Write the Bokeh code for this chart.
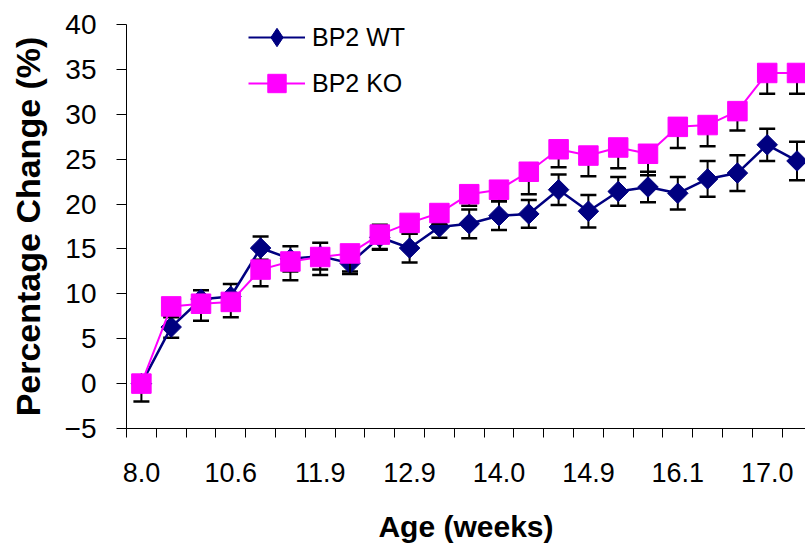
import numpy as np
from bokeh.plotting import figure
from bokeh.models import FixedTicker, Legend, LegendItem
from bokeh.embed import file_html
from bokeh.resources import INLINE

# ---- data ----
tick_labels = ["8.0", "10.6", "11.9", "12.9", "14.0", "14.9", "16.1", "17.0"]
label_step = 3
n_points = 23

wt = [0.0, 6.3, 9.4, 9.7, 15.1, 13.9, 14.2, 13.4, 16.3, 15.1, 17.45, 17.8,
      18.7, 18.9, 21.6, 19.2, 21.4, 21.9, 21.2, 22.8, 23.45, 26.6, 24.8]
wt_err = [0.8, 1.2, 1.0, 1.4, 1.3, 1.4, 1.5, 0.9, 1.4, 1.6, 1.2, 1.6,
          1.6, 1.55, 1.7, 1.8, 1.6, 1.7, 1.8, 2.0, 2.0, 1.8, 2.15]
ko = [0.0, 8.6, 8.9, 9.1, 12.7, 13.6, 14.1, 14.5, 16.6, 17.9, 19.0, 21.1,
      21.6, 23.6, 26.1, 25.4, 26.3, 25.6, 28.6, 28.8, 30.35, 34.6, 34.6]
ko_err = [2.0, 1.2, 1.9, 1.7, 1.85, 2.1, 2.0, 2.3, 1.6, 1.2, 1.2, 1.3,
          1.3, 2.5, 2.0, 2.3, 2.3, 2.4, 2.35, 2.35, 2.16, 2.3, 2.3]

series_names = ["BP2 WT", "BP2 KO"]
NAVY = "#000080"
MAGENTA = "#FF00FF"
FONT = "Liberation Sans"

x = list(range(n_points))
wt_a = np.array(wt)
wt_e = np.array(wt_err)
ko_a = np.array(ko)
ko_e = np.array(ko_err)

p = figure(width=805, height=548, x_range=(-0.5, 22.285), y_range=(-5, 40),
           output_backend="svg", toolbar_location=None,
           min_border_left=126, min_border_right=0, min_border_top=24,
           min_border_bottom=120)
p.outline_line_color = None
p.grid.visible = False
p.background_fill_color = "white"

# x axis
xa = p.xaxis[0]
xa.ticker = FixedTicker(ticks=x, minor_ticks=[i - 0.5 for i in range(n_points + 1)])
xa.major_label_overrides = {i: (tick_labels[i // label_step] if i % label_step == 0 else "")
                            for i in x}
xa.major_tick_line_color = None
xa.major_tick_out = 0
xa.major_tick_in = 0
xa.minor_tick_line_color = "black"
xa.minor_tick_out = 9
xa.minor_tick_in = 0
xa.major_label_standoff = 25
xa.major_label_text_font = FONT
xa.major_label_text_font_size = "27px"
xa.major_label_text_color = "black"
xa.axis_line_color = "black"
xa.axis_label = "Age (weeks)"
xa.axis_label_text_font = FONT
xa.axis_label_text_font_size = "30px"
xa.axis_label_text_font_style = "bold"
xa.axis_label_text_color = "black"
xa.axis_label_standoff = 25

# y axis
ya = p.yaxis[0]
ya.ticker = FixedTicker(ticks=list(range(-5, 41, 5)))
ya.minor_tick_line_color = None
ya.major_tick_out = 10
ya.major_tick_in = 0
ya.major_tick_line_color = "black"
ya.axis_line_color = "black"
ya.major_label_standoff = 20
ya.major_label_text_font = FONT
ya.major_label_text_font_size = "28px"
ya.major_label_text_color = "black"
ya.axis_label = "Percentage Change (%)"
ya.axis_label_text_font = FONT
ya.axis_label_text_font_size = "34px"
ya.axis_label_text_font_style = "bold"
ya.axis_label_text_color = "black"
ya.axis_label_standoff = 15

# WT: error bars both directions
p.segment(x0=x, y0=wt_a - wt_e, x1=x, y1=wt_a + wt_e, line_color="black", line_width=2)
p.scatter(x=x + x, y=list(wt_a - wt_e) + list(wt_a + wt_e), marker="dash",
          size=16, line_color="black", line_width=2.5)
p.line(x=x, y=wt, line_color=NAVY, line_width=2.5)
p.scatter(x=x, y=wt, marker="square", angle=np.pi / 4, size=14.5,
          fill_color=NAVY, line_color=NAVY)

# KO: error bars minus only
p.segment(x0=x, y0=ko_a - ko_e, x1=x, y1=ko_a, line_color="black", line_width=2)
p.scatter(x=x, y=ko_a - ko_e, marker="dash", size=16, line_color="black", line_width=2.5)
p.line(x=x, y=ko, line_color=MAGENTA, line_width=2)
p.scatter(x=x, y=ko, marker="square", size=19.5, fill_color=MAGENTA, line_color=MAGENTA)

# legend proxies (points far outside the visible ranges)
off_x, off_y = [-100, -99], [-100, -100]
l1 = p.line(x=off_x, y=off_y, line_color=NAVY, line_width=2)
m1 = p.scatter(x=off_x[:1], y=off_y[:1], marker="diamond", size=22,
               fill_color=NAVY, line_color=NAVY)
l2 = p.line(x=off_x, y=off_y, line_color=MAGENTA, line_width=2)
m2 = p.scatter(x=off_x[:1], y=off_y[:1], marker="square", size=19.5,
               fill_color=MAGENTA, line_color=MAGENTA)

legend = Legend(items=[LegendItem(label=series_names[0], renderers=[l1, m1]),
                       LegendItem(label=series_names[1], renderers=[l2, m2])],
                location=(122, 322), padding=0, margin=0,
                border_line_color=None, background_fill_alpha=0,
                glyph_width=57, glyph_height=46, label_height=46, spacing=0,
                label_standoff=7, label_text_font=FONT, label_text_font_size="25px",
                label_text_color="black")
p.add_layout(legend)

open("out.html", "w").write(file_html(p, INLINE))
